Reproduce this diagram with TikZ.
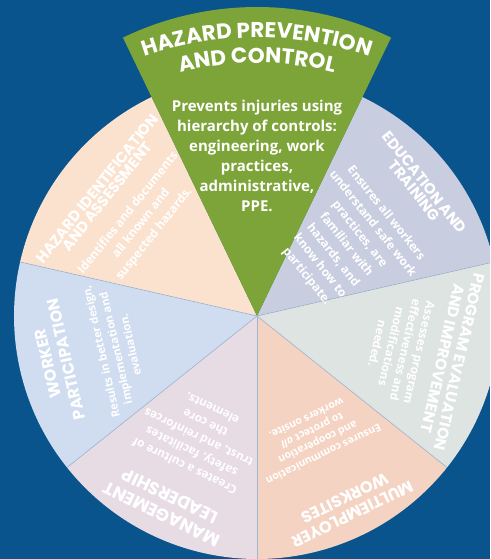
\documentclass[tikz,border=0pt]{standalone}
\usepackage{fontspec}
\setmainfont{Open Sans}
\newfontfamily\headfont{Poppins}
\usetikzlibrary{calc}
\usetikzlibrary{decorations.text}
\definecolor{bgblue}{RGB}{9,84,140}
\definecolor{hpcgreen}{RGB}{125,164,56}
\definecolor{hiapeach}{RGB}{251,226,206}
\definecolor{etlilac}{RGB}{201,205,224}
\definecolor{pegrey}{RGB}{222,228,226}
\definecolor{mwsalmon}{RGB}{245,211,195}
\definecolor{mlpink}{RGB}{232,220,228}
\definecolor{wpblue}{RGB}{208,220,239}
\definecolor{divline}{RGB}{160,182,208}

\begin{document}
\begin{tikzpicture}[x=1pt,y=1pt,
    segtitle/.style={text=white,align=center,inner sep=0pt},
    segtext/.style={text=white,align=center,inner sep=0pt}]
    \fill[bgblue] (0,0) rectangle (490,559);
    \useasboundingbox (0,0) rectangle (490,559);
    \clip (0,0) rectangle (490,559);
    \coordinate (hub) at (257,243);
    % the six pale segments
    \foreach \ang/\col in {38.571/etlilac,-12.857/pegrey,-64.286/mwsalmon,-115.714/mlpink,-167.143/wpblue,141.429/hiapeach}
        \fill[\col] (hub) -- ++({\ang-25.714}:243) arc[start angle={\ang-25.714},end angle={\ang+25.714},radius=243] -- cycle;
    \foreach \ang in {12.857,-38.571,-90,-141.429,167.143}
        \draw[divline,line width=0.6pt] (hub) -- ++(\ang:243);
    % the green one sticks out
    \fill[hpcgreen] (hub) -- ++(64.286:309) arc[start angle=64.286,end angle=115.714,radius=309] -- cycle;
    \coordinate (bend) at (257,181.5);
    \path[decorate,decoration={text along path,text align=center,text color=white,
        text format delimiters={|}{|},
        text={|\headfont\bfseries\fontsize{21.5}{21.5}\selectfont|HAZARD PREVENTION}}]
        ([shift={(125:340)}]bend) arc[start angle=125,end angle=55,radius=340];
    \path[decorate,decoration={text along path,text align=center,text color=white,
        text format delimiters={|}{|},
        text={|\headfont\bfseries\fontsize{21.5}{21.5}\selectfont|AND CONTROL}}]
        ([shift={(125:314.5)}]bend) arc[start angle=125,end angle=55,radius=314.5];
    \node[segtext,font=\bfseries\fontsize{15}{20}\selectfont] (hpcbody) at (257,403)
        {Prevents injuries using\\hierarchy of controls:\\engineering, work\\practices,\\administrative,\\PPE.};
    % education and training
    \node[segtitle,font=\headfont\bfseries\fontsize{15}{13}\selectfont,rotate=-51.43] (ettitle)
        at ([shift={(38.57:208)}]hub) {EDUCATION AND\\TRAINING};
    \node[segtext,font=\bfseries\fontsize{12}{16.9}\selectfont,rotate=-51.43] (etbody)
        at ([shift={(38.57:114)}]hub) {Ensures all workers\\understand safe work\\practices, are\\familiar with\\hazards, and\\know how to\\participate.};
    % program evaluation
    \node[segtitle,font=\headfont\bfseries\fontsize{15.5}{17}\selectfont,rotate=-102.86] (petitle)
        at ([shift={(-12.86:199)}]hub) {PROGRAM EVALUATION\\AND IMPROVEMENT};
    \node[segtext,font=\bfseries\fontsize{11.8}{14.3}\selectfont,rotate=-102.86] (pebody)
        at ([shift={(-12.86:145)}]hub) {Assesses program\\effectiveness and\\modifications\\needed.};
    % multiemployer worksites
    \node[segtitle,font=\headfont\bfseries\fontsize{16.2}{17.6}\selectfont,rotate=-154.29] (mwtitle)
        at ([shift={(-64.29:211)}]hub) {MULTIEMPLOYER\\WORKSITES};
    \node[segtext,font=\bfseries\fontsize{10.5}{13.2}\selectfont,rotate=-154.29] (mwbody)
        at ([shift={(-64.29:134)}]hub) {Ensures communication\\and cooperation\\to protect \textit{all}\\workers onsite.};
    % management leadership
    \node[segtitle,font=\headfont\bfseries\fontsize{17.5}{20}\selectfont,rotate=154.29] (mltitle)
        at ([shift={(-115.71:210)}]hub) {MANAGEMENT\\LEADERSHIP};
    \node[segtext,font=\bfseries\fontsize{11.7}{16}\selectfont,rotate=154.29] (mlbody)
        at ([shift={(-115.71:135)}]hub) {Creates a culture of\\safety, facilitates\\trust, and reinforces\\the core\\elements.};
    % worker participation
    \node[segtitle,font=\headfont\bfseries\fontsize{16}{19}\selectfont,rotate=102.86] (wptitle)
        at ([shift={(-167.14:205)}]hub) {WORKER\\PARTICIPATION};
    \node[segtext,font=\bfseries\fontsize{11.2}{15}\selectfont,rotate=102.86] (wpbody)
        at ([shift={(-167.14:145)}]hub) {Results in better design,\\implementation and\\evaluation.};
    % hazard identification
    \node[segtitle,font=\headfont\bfseries\fontsize{15}{12.5}\selectfont,rotate=51.43] (hiatitle)
        at ([shift={(141.43:198)}]hub) {HAZARD IDENTIFICATION\\AND ASSESSMENT};
    \node[segtext,font=\bfseries\fontsize{12}{16.7}\selectfont,rotate=51.43] (hiabody)
        at ([shift={(141.43:148)}]hub) {Identifies and documents\\all known and\\suspected hazards.};
\end{tikzpicture}
\end{document}
